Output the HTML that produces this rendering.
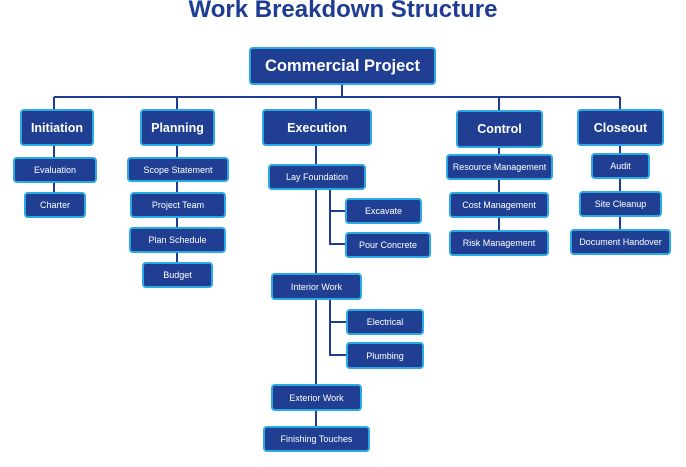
<!DOCTYPE html>
<html><head><style>
body{margin:0;width:686px;height:467px;background:#fff;position:relative;overflow:hidden;font-family:"Liberation Sans",sans-serif}
.t{position:absolute;left:0;width:686px;top:-4px;text-align:center;font-weight:bold;font-size:24px;color:#1e3c94}
.b{position:absolute;box-sizing:border-box;background:#203f92;border:2px solid #2aa9e2;border-radius:4px;color:#fff;display:flex;align-items:center;justify-content:center;font-size:9px;white-space:nowrap}
.l1{font-size:12.5px;font-weight:bold}
.r{font-size:16.5px;font-weight:bold}
svg{position:absolute;left:0;top:0}
</style></head><body>
<div class="t">Work Breakdown Structure</div>
<svg width="686" height="467" fill="none" stroke="#1e3c94" stroke-width="2">
<path d="M342 85V97M54 97H620M54 97V109M177 97V109M316 97V109M499 97V110M620 97V109"/>
<path d="M54 146V192M177 146V262M316 146V426M330 190V244H345M330 211H345M330 299V355H346M330 322H346M499 148V230M620 146V229"/>
</svg>
<div class="b r" style="left:249px;top:47px;width:187px;height:38px">Commercial Project</div>
<div class="b l1" style="left:20px;top:109px;width:74px;height:37px">Initiation</div>
<div class="b l1" style="left:140px;top:109px;width:75px;height:37px">Planning</div>
<div class="b l1" style="left:262px;top:109px;width:110px;height:37px">Execution</div>
<div class="b l1" style="left:456px;top:110px;width:87px;height:38px">Control</div>
<div class="b l1" style="left:577px;top:109px;width:87px;height:37px">Closeout</div>
<div class="b" style="left:13px;top:157px;width:84px;height:26px">Evaluation</div>
<div class="b" style="left:24px;top:192px;width:62px;height:26px">Charter</div>
<div class="b" style="left:127px;top:157px;width:102px;height:25px">Scope Statement</div>
<div class="b" style="left:130px;top:192px;width:96px;height:26px">Project Team</div>
<div class="b" style="left:129px;top:227px;width:97px;height:26px">Plan Schedule</div>
<div class="b" style="left:142px;top:262px;width:71px;height:26px">Budget</div>
<div class="b" style="left:268px;top:164px;width:98px;height:26px">Lay Foundation</div>
<div class="b" style="left:345px;top:198px;width:77px;height:26px">Excavate</div>
<div class="b" style="left:345px;top:232px;width:86px;height:26px">Pour Concrete</div>
<div class="b" style="left:271px;top:273px;width:91px;height:27px">Interior Work</div>
<div class="b" style="left:346px;top:309px;width:78px;height:26px">Electrical</div>
<div class="b" style="left:346px;top:342px;width:78px;height:27px">Plumbing</div>
<div class="b" style="left:271px;top:384px;width:91px;height:27px">Exterior Work</div>
<div class="b" style="left:263px;top:426px;width:107px;height:26px">Finishing Touches</div>
<div class="b" style="left:446px;top:154px;width:107px;height:26px">Resource Management</div>
<div class="b" style="left:449px;top:192px;width:100px;height:26px">Cost Management</div>
<div class="b" style="left:449px;top:230px;width:100px;height:26px">Risk Management</div>
<div class="b" style="left:591px;top:153px;width:59px;height:26px">Audit</div>
<div class="b" style="left:579px;top:191px;width:83px;height:26px">Site Cleanup</div>
<div class="b" style="left:570px;top:229px;width:101px;height:26px">Document Handover</div>
</body></html>
